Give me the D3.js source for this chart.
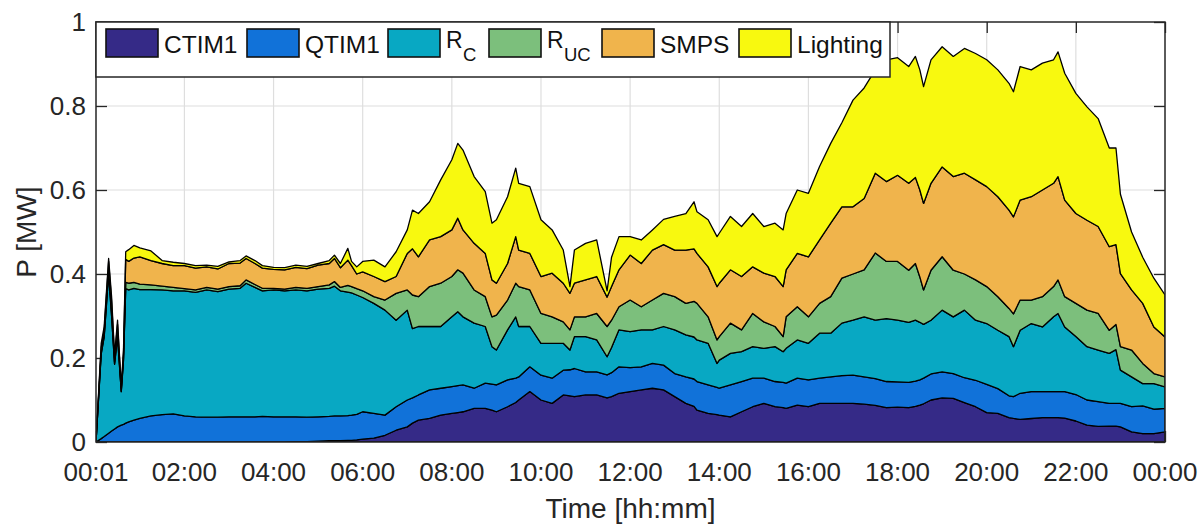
<!DOCTYPE html>
<html>
<head>
<meta charset="utf-8">
<script src="https://cdn.jsdelivr.net/npm/d3@7/dist/d3.min.js"></script>
<style>
  html, body { margin: 0; padding: 0; background: #fff; }
  svg { display: block; font-family: "Liberation Sans", Arial, Helvetica, sans-serif; }
</style>
</head>
<body>
<svg id="chart" width="1200" height="528"></svg>
<script>
// Sample times, minutes after midnight (00:01 … 24:00)
const minutes = [
  1, 8, 12, 18, 22, 26, 30, 35, 38, 41, 45, 52, 60,
  75, 90, 105, 120, 135, 150, 165, 180, 195, 203, 215, 225,
  240, 255, 270, 285, 300, 315, 322, 330, 340, 345, 352, 360,
  375, 390, 405, 420, 427, 435, 450, 465, 480, 488, 495, 510,
  525, 534, 540, 555, 566, 570, 585, 600, 615, 630, 639, 645,
  660, 675, 689, 695, 705, 720, 735, 750, 765, 780, 795, 806,
  810, 825, 837, 840, 855, 870, 885, 900, 915, 926, 930, 945,
  960, 975, 990, 1005, 1020, 1035, 1050, 1065, 1080, 1095, 1104, 1110,
  1115, 1125, 1140, 1155, 1170, 1185, 1200, 1215, 1230, 1236, 1245, 1260,
  1275, 1290, 1296, 1305, 1320, 1335, 1350, 1365, 1374, 1380, 1395, 1410,
  1425, 1440
];

// Load per category, MW
const ctim1 = [
  0, 0, 0, 0, 0, 0, 0, 0, 0, 0, 0, 0, 0,
  0, 0, 0, 0, 0, 0, 0, 0, 0, 0, 0, 0,
  0, 0, .001, .001, .002, .003, .003, .003, .004, .004, .005, .007,
  .009, .016, .028, .036, .045, .052, .056, .064, .068, .070, .072, .080,
  .080, .076, .072, .084, .094, .100, .120, .100, .092, .112, .110, .108,
  .112, .112, .105, .108, .116, .120, .124, .128, .124, .108, .092, .085,
  .076, .068, .065, .064, .060, .072, .084, .092, .084, .082, .080, .088,
  .084, .092, .092, .092, .092, .090, .087, .082, .083, .082, .085, .088,
  .091, .100, .105, .104, .094, .084, .070, .068, .058, .056, .054, .056,
  .058, .058, .058, .057, .050, .040, .037, .038, .038, .036, .024, .020,
  .020, .024
];
const qtim1 = [
  0, .008, .013, .021, .026, .031, .036, .040, .042, .045, .048, .052, .056,
  .062, .065, .067, .062, .060, .059, .059, .060, .060, .060, .060, .061,
  .060, .060, .059, .058, .058, .058, .059, .059, .059, .060, .061, .065,
  .059, .048, .056, .064, .060, .060, .068, .064, .064, .064, .064, .048,
  .060, .062, .064, .064, .058, .055, .059, .059, .060, .059, .062, .067,
  .055, .055, .055, .057, .063, .057, .055, .059, .059, .055, .063, .065,
  .068, .068, .065, .064, .076, .072, .068, .060, .060, .060, .060, .064,
  .064, .060, .063, .066, .067, .065, .064, .062, .060, .060, .060, .060,
  .061, .062, .062, .059, .059, .063, .067, .059, .052, .052, .062, .064,
  .062, .062, .062, .063, .063, .060, .059, .054, .054, .056, .060, .066,
  .058, .056
];
const rC = [
  0, .202, .237, .379, .274, .154, .214, .080, .153, .320, .314, .314, .307,
  .301, .297, .293, .298, .296, .303, .299, .304, .306, .318, .308, .299,
  .302, .300, .302, .301, .304, .305, .309, .298, .294, .291, .284, .272,
  .262, .250, .206, .214, .165, .163, .151, .147, .166, .176, .162, .155,
  .135, .089, .083, .119, .146, .120, .096, .076, .083, .064, .047, .076,
  .084, .076, .043, .060, .088, .086, .088, .080, .092, .104, .100, .100,
  .099, .099, .057, .067, .075, .071, .075, .071, .083, .073, .083, .091,
  .087, .107, .104, .125, .131, .143, .139, .150, .147, .143, .145, .137,
  .128, .128, .147, .135, .161, .143, .145, .139, .141, .119, .150, .162,
  .154, .178, .186, .154, .138, .127, .123, .119, .128, .079, .071, .053,
  .061, .051
];
const rUC = [
  0, .005, .005, .010, .010, .005, .010, .002, .005, .015, .016, .014, .013,
  .011, .009, .008, .005, .006, .006, .006, .006, .006, .008, .007, .006,
  .004, .004, .006, .006, .006, .008, .011, .008, .016, .015, .015, .016,
  .016, .024, .064, .048, .080, .071, .095, .103, .096, .100, .104, .079,
  .071, .071, .083, .071, .080, .095, .087, .071, .063, .051, .048, .047,
  .047, .063, .072, .065, .055, .075, .055, .071, .079, .079, .075, .085,
  .087, .063, .056, .056, .072, .052, .079, .063, .048, .036, .075, .079,
  .063, .071, .087, .107, .110, .112, .160, .136, .140, .124, .135, .108,
  .082, .119, .127, .111, .086, .096, .088, .080, .067, .078, .072, .056,
  .072, .072, .080, .072, .079, .087, .087, .055, .060, .056, .064, .048,
  .024, .024
];
const smps = [
  0, .010, .010, .020, .025, .010, .020, .006, .010, .055, .052, .058, .065,
  .058, .054, .052, .055, .052, .049, .048, .055, .054, .051, .050, .048,
  .045, .046, .048, .047, .051, .051, .055, .047, .060, .050, .035, .045,
  .048, .044, .040, .087, .110, .095, .111, .111, .111, .123, .103, .111,
  .103, .088, .076, .087, .111, .087, .087, .088, .104, .092, .087, .080,
  .088, .088, .070, .080, .088, .107, .103, .119, .116, .111, .127, .125,
  .119, .119, .127, .127, .127, .127, .111, .116, .119, .119, .112, .127,
  .143, .151, .175, .170, .160, .170, .190, .190, .205, .207, .205, .207,
  .206, .207, .214, .223, .240, .238, .238, .238, .234, .231, .238, .246,
  .254, .246, .246, .230, .214, .214, .207, .199, .190, .174, .143, .143,
  .111, .095
];
const lighting = [
  0, .010, .010, .007, .011, .007, .010, .004, .009, .018, .028, .030, .021,
  .023, .007, .008, .005, .006, .004, .006, .004, .006, .006, .007, .006,
  .005, .005, .005, .005, .004, .007, .008, .010, .028, .010, .017, .025,
  .039, .035, .059, .056, .092, .103, .091, .135, .167, .178, .190, .159,
  .147, .135, .151, .159, .163, .159, .159, .135, .103, .079, .016, .079,
  .087, .087, .015, .070, .079, .044, .056, .048, .060, .080, .087, .112,
  .099, .112, .119, .119, .127, .119, .127, .111, .127, .135, .134, .151,
  .151, .175, .190, .200, .254, .263, .246, .290, .280, .278, .288, .286,
  .278, .294, .286, .286, .297, .301, .302, .302, .302, .298, .318, .302,
  .302, .294, .297, .302, .286, .270, .257, .235, .230, .189, .138, .110,
  .116, .100
];

const seriesKeys = ["CTIM1", "QTIM1", "RC", "RUC", "SMPS", "Lighting"];
const seriesValues = [ctim1, qtim1, rC, rUC, smps, lighting];
const seriesColors = ["#352a87", "#1172d9", "#08a8c3", "#7cbf7c", "#f0b44c", "#f8f90f"];

const xTickMinutes = [1, 120, 240, 360, 480, 600, 720, 840, 960, 1080, 1200, 1320, 1440];
const xTickLabels = ["00:01", "02:00", "04:00", "06:00", "08:00", "10:00", "12:00",
                     "14:00", "16:00", "18:00", "20:00", "22:00", "00:00"];
const yTickValues = [0, 0.2, 0.4, 0.6, 0.8, 1];
const yTickLabels = ["0", "0.2", "0.4", "0.6", "0.8", "1"];

// Legend entries: main text and optional subscript
const legendItems = [
  { text: "CTIM1", sub: "" },
  { text: "QTIM1", sub: "" },
  { text: "R", sub: "C" },
  { text: "R", sub: "UC" },
  { text: "SMPS", sub: "" },
  { text: "Lighting", sub: "" }
];

// ---- layout ----
const plot = { left: 96, right: 1165, top: 22, bottom: 442 };
const axisColor = "#262626";

const table = minutes.map((m, i) => {
  const row = { minute: m };
  seriesKeys.forEach((k, j) => { row[k] = seriesValues[j][i]; });
  return row;
});

const stacked = d3.stack().keys(seriesKeys)(table);

const x = d3.scaleLinear().domain([1, 1440]).range([plot.left, plot.right]);
const y = d3.scaleLinear().domain([0, 1]).range([plot.bottom, plot.top]);

const svg = d3.select("#chart");

svg.append("defs").append("clipPath").attr("id", "plotClip")
  .append("rect")
  .attr("x", plot.left).attr("y", plot.top)
  .attr("width", plot.right - plot.left).attr("height", plot.bottom - plot.top);

// grid
const grid = svg.append("g").attr("class", "grid");
grid.selectAll("line.vx").data(xTickMinutes.slice(1, -1)).join("line")
  .attr("x1", d => x(d)).attr("x2", d => x(d))
  .attr("y1", plot.top).attr("y2", plot.bottom)
  .attr("stroke", "#dedede").attr("stroke-width", 1.2);
grid.selectAll("line.hy").data(yTickValues.slice(1, -1)).join("line")
  .attr("x1", plot.left).attr("x2", plot.right)
  .attr("y1", d => y(d)).attr("y2", d => y(d))
  .attr("stroke", "#dedede").attr("stroke-width", 1.2);

// inward tick marks on all four sides
const tickLen = 11;
const ticks = svg.append("g").attr("stroke", axisColor).attr("stroke-width", 1.3);
const yAxisL = d3.axisRight(y).tickValues(yTickValues).tickSize(tickLen).tickFormat("");
const yAxisR = d3.axisLeft(y).tickValues(yTickValues).tickSize(tickLen).tickFormat("");
const xAxisB = d3.axisTop(x).tickValues(xTickMinutes).tickSize(tickLen).tickFormat("");
const xAxisT = d3.axisBottom(x).tickValues(xTickMinutes).tickSize(tickLen).tickFormat("");
[[yAxisL, `translate(${plot.left},0)`], [yAxisR, `translate(${plot.right},0)`],
 [xAxisB, `translate(0,${plot.bottom})`], [xAxisT, `translate(0,${plot.top})`]]
  .forEach(([ax, tr]) => {
    const g = ticks.append("g").attr("transform", tr).call(ax);
    g.select(".domain").remove();
    g.selectAll("line").attr("stroke", axisColor).attr("stroke-width", 1.3);
  });

// stacked areas
const area = d3.area()
  .x(d => x(d.data.minute))
  .y0(d => y(d[0]))
  .y1(d => y(d[1]))
  .curve(d3.curveLinear);

svg.append("g").attr("clip-path", "url(#plotClip)")
  .selectAll("path").data(stacked).join("path")
  .attr("d", area)
  .attr("fill", (d, i) => seriesColors[i])
  .attr("stroke", "#000")
  .attr("stroke-width", 1.3)
  .attr("stroke-linejoin", "round");

// axes box
svg.append("rect")
  .attr("x", plot.left).attr("y", plot.top)
  .attr("width", plot.right - plot.left).attr("height", plot.bottom - plot.top)
  .attr("fill", "none").attr("stroke", axisColor).attr("stroke-width", 1.5);

// tick labels
const labelSize = 26;
svg.append("g").selectAll("text").data(xTickMinutes).join("text")
  .attr("x", d => x(d)).attr("y", 481)
  .attr("text-anchor", "middle")
  .attr("font-size", labelSize).attr("fill", axisColor)
  .text((d, i) => xTickLabels[i]);

svg.append("g").selectAll("text").data(yTickValues).join("text")
  .attr("x", plot.left - 10).attr("y", d => y(d))
  .attr("dy", "0.36em")
  .attr("text-anchor", "end")
  .attr("font-size", labelSize).attr("fill", axisColor)
  .text((d, i) => yTickLabels[i]);

// axis titles
svg.append("text")
  .attr("x", (plot.left + plot.right) / 2).attr("y", 518)
  .attr("text-anchor", "middle").attr("font-size", 28).attr("fill", axisColor)
  .text("Time [hh:mm]");

svg.append("text")
  .attr("transform", `translate(36,${(plot.top + plot.bottom) / 2}) rotate(-90)`)
  .attr("text-anchor", "middle").attr("font-size", 28).attr("fill", axisColor)
  .text("P [MW]");

// legend
const legend = svg.append("g");
legend.append("rect")
  .attr("x", plot.left).attr("y", plot.top)
  .attr("width", 794).attr("height", 55)
  .attr("fill", "#fff").attr("stroke", axisColor).attr("stroke-width", 1.5);

const swatchX = [106, 247, 388, 489, 602, 739];
legendItems.forEach((item, i) => {
  legend.append("rect")
    .attr("x", swatchX[i]).attr("y", 29)
    .attr("width", 52).attr("height", 28)
    .attr("fill", seriesColors[i])
    .attr("stroke", "#111").attr("stroke-width", 1.6);
  const tx = swatchX[i] + 58;
  if (item.sub) {
    legend.append("text")
      .attr("x", tx).attr("y", 48)
      .attr("font-size", 23).attr("fill", "#111")
      .text(item.text);
    legend.append("text")
      .attr("x", tx + 17).attr("y", 61)
      .attr("font-size", 18.5).attr("fill", "#111")
      .text(item.sub);
  } else {
    legend.append("text")
      .attr("x", tx).attr("y", 53)
      .attr("font-size", 24.5).attr("fill", "#111")
      .text(item.text);
  }
});
</script>
</body>
</html>
